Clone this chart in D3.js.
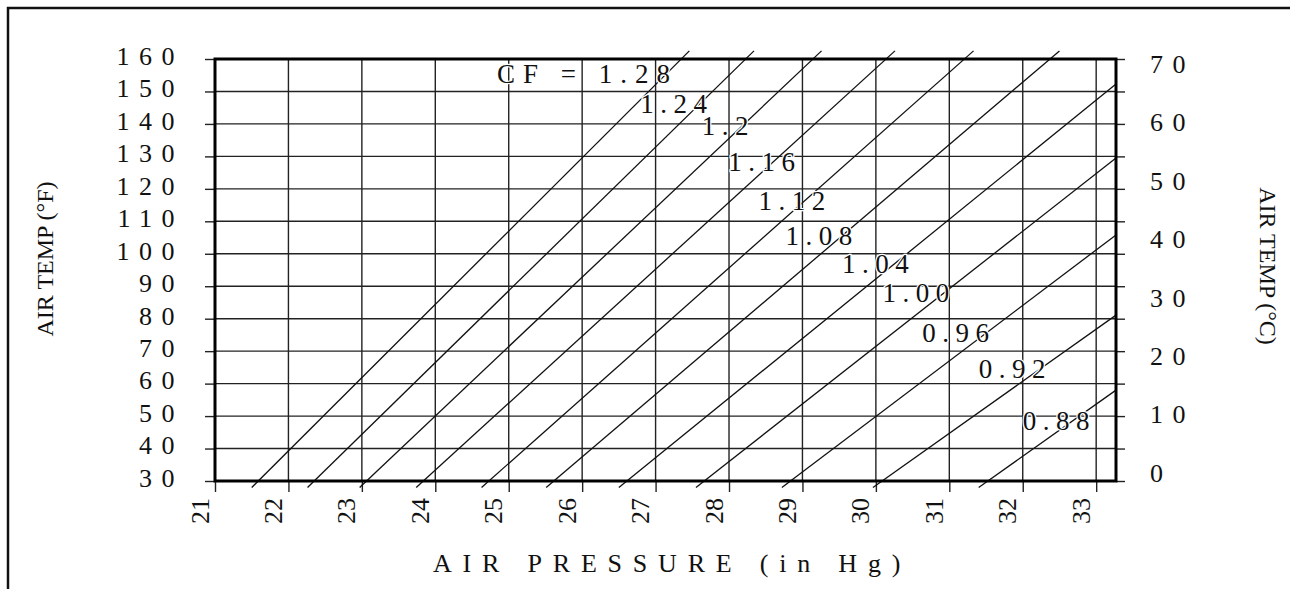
<!DOCTYPE html>
<html>
<head>
<meta charset="utf-8">
<script src="https://cdn.jsdelivr.net/npm/d3@7"></script>
<style>
  body { margin: 0; background: #fff; }
  svg { display: block; }
  text { font-family: "Liberation Serif", "Times New Roman", serif; fill: #111; }
</style>
</head>
<body>
<svg></svg>
<script>
// tick values
const pressureTicks = [21, 22, 23, 24, 25, 26, 27, 28, 29, 30, 31, 32, 33];
const tempFTicks = [30, 40, 50, 60, 70, 80, 90, 100, 110, 120, 130, 140, 150, 160];
const tempCTicks = [0, 10, 20, 30, 40, 50, 60, 70];

// correction factor lines (pressure in Hg, temp in F)
const cfNames = ['CF = 1.28', '1.24', '1.2', '1.16', '1.12', '1.08', '1.04', '1.00', '0.96', '0.92', '0.88'];
const startP = [21.50, 22.26, 22.97, 23.74, 24.63, 25.51, 26.50, 27.55, 28.72, 29.96, 31.40];
const startT = [28, 28, 28, 28, 28, 28, 28, 28, 28, 28, 28];
const endP = [27.46, 28.34, 29.26, 30.26, 31.33, 32.50, 33.27, 33.27, 33.27, 33.27, 33.27];
const endT = [162.5, 162.5, 162.5, 162.5, 162.5, 162.5, 152.3, 129.5, 105.8, 81.1, 58.0];
// where each label sits (pressure, temp)
const labelP = [24.84, 26.79, 27.63, 27.99, 28.40, 28.77, 29.54, 30.09, 30.63, 31.40, 32.00];
const labelT = [152.6, 143.4, 136.6, 125.5, 113.5, 102.7, 94.1, 85.1, 72.8, 61.7, 45.7];

const size = {w: 1290, h: 589};
const margin = {t: 59, r: 174, b: 108, l: 215};
const svg = d3.select('svg')
    .attr('width', size.w)
    .attr('height', size.h);

// outer frame, runs off the right and bottom of the page
svg.append('rect')
    .attr('x', 8).attr('y', 8)
    .attr('width', 1320).attr('height', 620)
    .attr('fill', 'none')
    .attr('stroke', '#111')
    .attr('stroke-width', 2.5);

const x = d3.scaleLinear()
    .domain([21, 33.27])
    .range([margin.l, size.w - margin.r]);
const y = d3.scaleLinear()
    .domain([30, 160])
    .range([size.h - margin.b, margin.t]);
// celsius scale lined up with the fahrenheit one
const yC = d3.scaleLinear()
    .domain([(30 - 32) * 5 / 9, (160 - 32) * 5 / 9])
    .range([size.h - margin.b, margin.t]);

const x0 = x.range()[0], x1 = x.range()[1];
const y0 = y.range()[0], y1 = y.range()[1];

// grid
const gridG = svg.append('g').classed('grid', true)
    .attr('stroke', '#222')
    .attr('stroke-width', 1.4);

gridG.selectAll('line.h')
    .data(tempFTicks)
    .join('line')
    .classed('h', true)
    .attr('x1', x0).attr('x2', x1)
    .attr('y1', d => y(d)).attr('y2', d => y(d));

gridG.selectAll('line.v')
    .data(pressureTicks.slice(1))
    .join('line')
    .classed('v', true)
    .attr('x1', d => x(d)).attr('x2', d => x(d))
    .attr('y1', y1).attr('y2', y0);

// axes
const leftAxis = svg.append('g')
    .attr('transform', `translate(${x0},0)`)
    .call(d3.axisLeft(y).tickValues(tempFTicks).tickSize(10).tickPadding(21));

const rightTicks = svg.append('g')
    .attr('transform', `translate(${x1},0)`)
    .call(d3.axisRight(y).tickValues(tempFTicks).tickSize(9).tickFormat(''));

const rightAxis = svg.append('g')
    .attr('transform', `translate(${x1},0)`)
    .call(d3.axisRight(yC).tickValues(tempCTicks).tickSize(0).tickPadding(34));

const bottomAxis = svg.append('g')
    .attr('transform', `translate(0,${y0})`)
    .call(d3.axisBottom(x).tickValues(pressureTicks).tickSize(11));

[leftAxis, rightTicks, rightAxis, bottomAxis].forEach(g => {
    g.select('.domain').remove();
    g.selectAll('.tick line').attr('stroke', '#222').attr('stroke-width', 1.4);
    g.selectAll('text')
        .style('font-family', '"Liberation Serif", "Times New Roman", serif')
        .style('font-size', '26px')
        .attr('fill', '#111');
});

leftAxis.selectAll('text')
    .attr('y', -3)
    .style('letter-spacing', '9.5px');

rightAxis.selectAll('text')
    .attr('y', -1.5)
    .style('letter-spacing', '9.5px');

// rotated pressure labels
bottomAxis.selectAll('text')
    .attr('transform', 'rotate(-90)')
    .attr('x', -43)
    .attr('y', -7)
    .attr('dy', 0)
    .attr('text-anchor', 'start');

// correction factor lines
const cfData = cfNames.map((name, i) => ({
    name: name,
    p0: startP[i], t0: startT[i],
    p1: endP[i], t1: endT[i],
    lp: labelP[i], lt: labelT[i]
}));

const linesG = svg.append('g').classed('cf-lines', true);
linesG.selectAll('line')
    .data(cfData)
    .join('line')
    .attr('x1', d => x(d.p0)).attr('y1', d => y(d.t0))
    .attr('x2', d => x(d.p1)).attr('y2', d => y(d.t1))
    .attr('stroke', '#111')
    .attr('stroke-width', 1.3);

// heavy frame round the plot
svg.append('rect')
    .attr('x', x0).attr('y', y1)
    .attr('width', x1 - x0).attr('height', y0 - y1)
    .attr('fill', 'none')
    .attr('stroke', '#000')
    .attr('stroke-width', 3);

// cf labels
svg.append('g').classed('cf-labels', true)
    .selectAll('text')
    .data(cfData)
    .join('text')
    .attr('x', d => x(d.lp))
    .attr('y', d => y(d.lt))
    .style('font-size', '27px')
    .style('letter-spacing', (d, i) => i === 0 ? '8px' : '6.5px')
    .style('paint-order', 'stroke')
    .attr('stroke', '#fff')
    .attr('stroke-width', 2.5)
    .text(d => d.name);

// axis titles
svg.append('text')
    .attr('transform', 'translate(53,259) rotate(-90)')
    .attr('text-anchor', 'middle')
    .style('font-size', '24px')
    .text('AIR TEMP (°F)');

svg.append('text')
    .attr('transform', 'translate(1260,266) rotate(90)')
    .attr('text-anchor', 'middle')
    .style('font-size', '24px')
    .text('AIR TEMP (°C)');

svg.append('text')
    .attr('x', 433)
    .attr('y', 572)
    .style('font-size', '26px')
    .style('letter-spacing', '10.8px')
    .text('AIR PRESSURE (in Hg)');
</script>
</body>
</html>
